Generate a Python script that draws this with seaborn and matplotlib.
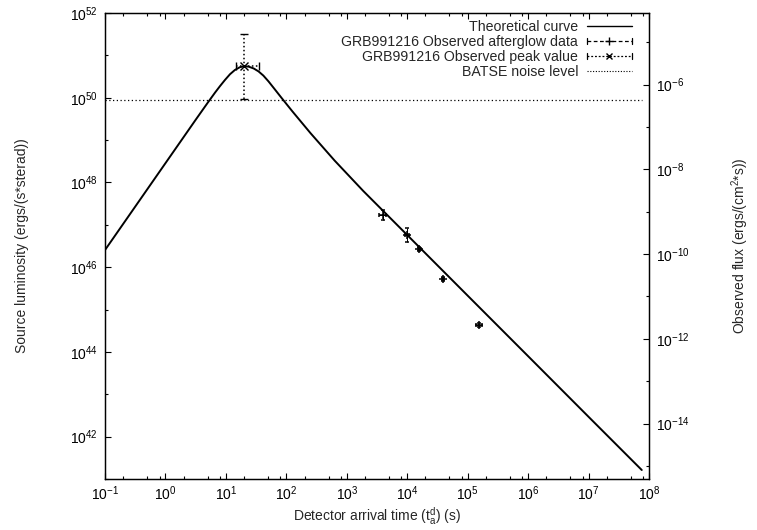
import numpy as np
import pandas as pd
import matplotlib
matplotlib.use("Agg")
import matplotlib.pyplot as plt
import seaborn as sns
from matplotlib.lines import Line2D
from matplotlib.legend_handler import HandlerBase
from matplotlib.ticker import FixedLocator, LogLocator, LogFormatterSciNotation, NullFormatter

# ---------------- data ----------------
curve_t = [0.1, 1.0, 3.16, 5.01, 6.61, 7.94, 9.66, 11.7, 14.1, 17.0, 20.2, 24.0, 28.8,
           34.7, 41.7, 50.7, 63.1, 83.9, 126, 251, 631, 1879, 1.0e4, 1.0e5, 1.0e6,
           1.0e7, 7.59e7]
curve_L = [2.54e46, 2.85e48, 3.01e49, 7.64e49, 1.32e50, 1.86e50, 2.63e50, 3.59e50,
           4.52e50, 5.25e50, 5.56e50, 5.40e50, 4.91e50, 4.18e50, 3.33e50, 2.43e50,
           1.64e50, 9.79e49, 4.76e49, 1.46e49, 3.27e48, 6.27e47, 5.74e46, 2.13e45,
           7.93e43, 2.94e42, 1.63e41]

ag_t = [3940, 10050, 15850, 39540, 154000]
ag_L = [1.70e47, 5.74e46, 2.64e46, 5.26e45, 4.31e44]
ag_t_lo = [3450, 9300, 15000, 38000, 137000]
ag_t_hi = [4500, 10850, 16700, 41000, 173000]
ag_L_lo = [1.33e47, 4.0e46, 2.35e46, 4.8e45, 3.9e44]
ag_L_hi = [2.2e47, 8.3e46, 2.95e46, 5.8e45, 4.8e44]

peak_t = [20.2]
peak_L = [5.6e50]
peak_t_lo = [14.7]
peak_t_hi = [35.7]
peak_L_lo = [9.3e49]
peak_L_hi = [3.19e51]

batse_t = [0.1, 7.59e7]
batse_L = [8.8e49, 8.8e49]

flux_per_lum = 4.9e-57

legend_labels = ["Theoretical curve", "GRB991216 Observed afterglow data",
                 "GRB991216 Observed peak value", "BATSE noise level"]
x_ticks = [1e-1, 1e0, 1e1, 1e2, 1e3, 1e4, 1e5, 1e6, 1e7, 1e8]
y_ticks = [1e42, 1e44, 1e46, 1e48, 1e50, 1e52]
y_minor = [1e41, 1e43, 1e45, 1e47, 1e49, 1e51]
y2_ticks = [1e-14, 1e-12, 1e-10, 1e-8, 1e-6]
y2_minor = [1e-15, 1e-13, 1e-11, 1e-9, 1e-7, 1e-5]

# ---------------- style ----------------
sns.set_theme(style="ticks")
plt.rcParams["font.family"] = ["Liberation Sans", "DejaVu Sans"]
plt.rcParams["mathtext.fontset"] = "custom"
plt.rcParams["mathtext.rm"] = "Liberation Sans"
plt.rcParams["mathtext.it"] = "Liberation Sans:italic"
plt.rcParams["axes.unicode_minus"] = False
plt.rcParams["font.size"] = 10

W, H = 757, 530
fig = plt.figure(figsize=(W / 100, H / 100), dpi=100)
ax = fig.add_axes([105 / W, 1 - 479 / H, 544 / W, 466 / H])
ax.set_xscale("log")
ax.set_yscale("log")

curve_df = pd.DataFrame({"t": curve_t, "L": curve_L})
sns.lineplot(data=curve_df, x="t", y="L", color="black", lw=1.4, ax=ax,
             sort=False, estimator=None, legend=False)
sns.lineplot(x=batse_t, y=batse_L, color="black", lw=0.9, ls=(0, (1, 2)), ax=ax,
             legend=False, estimator=None)

ag_t_a = np.array(ag_t); ag_L_a = np.array(ag_L)
xerr = [ag_t_a - np.array(ag_t_lo), np.array(ag_t_hi) - ag_t_a]
yerr = [ag_L_a - np.array(ag_L_lo), np.array(ag_L_hi) - ag_L_a]
ax.errorbar(ag_t, ag_L, xerr=xerr, yerr=yerr, fmt="+", color="black", ms=5.5, mew=1.1,
            elinewidth=0.7, capsize=1.6, capthick=0.7)

pk_t = np.array(peak_t); pk_L = np.array(peak_L)
pxerr = [pk_t - np.array(peak_t_lo), np.array(peak_t_hi) - pk_t]
pyerr = [pk_L - np.array(peak_L_lo), np.array(peak_L_hi) - pk_L]
eb = ax.errorbar(peak_t, peak_L, xerr=pxerr, yerr=pyerr, fmt="x", color="black", ms=6,
                 mew=1.0, elinewidth=1.1, capsize=3, capthick=0.9)
for lc in eb[2]:
    lc.set_linestyle((0, (1, 1.6)))

ax.set_xlim(1e-1, 1e8)
ax.set_ylim(1e41, 1e52)
ax.xaxis.set_major_locator(FixedLocator(x_ticks))
ax.xaxis.set_minor_locator(LogLocator(base=10, subs=(2, 5, 8)))
ax.xaxis.set_minor_formatter(NullFormatter())
ax.xaxis.set_major_formatter(LogFormatterSciNotation())
ax.yaxis.set_major_locator(FixedLocator(y_ticks))
ax.yaxis.set_minor_locator(FixedLocator(y_minor))
ax.yaxis.set_major_formatter(LogFormatterSciNotation())
ax.yaxis.set_minor_formatter(NullFormatter())

ax.tick_params(axis="x", which="both", direction="in", top=True, bottom=True, colors="black")
ax.tick_params(axis="y", which="both", direction="in", left=True, right=False, colors="black")
ax.tick_params(which="major", length=4.5, width=0.8, labelsize=10)
ax.tick_params(which="minor", length=2.3, width=0.8)
ax.tick_params(axis="x", which="major", pad=4)
ax.tick_params(axis="y", which="major", pad=5)
for s in ax.spines.values():
    s.set_color("black"); s.set_linewidth(0.9)

ax2 = ax.twinx()
ax2.set_yscale("log")
ax2.set_ylim(1e41 * flux_per_lum, 1e52 * flux_per_lum)
ax2.yaxis.set_major_locator(FixedLocator(y2_ticks))
ax2.yaxis.set_minor_locator(FixedLocator(y2_minor))
ax2.yaxis.set_major_formatter(LogFormatterSciNotation())
ax2.yaxis.set_minor_formatter(NullFormatter())
ax2.tick_params(axis="y", which="both", direction="in", right=True, colors="black")
ax2.tick_params(which="major", length=4.5, width=0.8, labelsize=10, pad=5)
ax2.tick_params(which="minor", length=2.3, width=0.8)
for s in ax2.spines.values():
    s.set_color("black"); s.set_linewidth(0.9)

ax.set_xlabel(r"Detector arrival time ($\mathregular{t_a^d}$) (s)", fontsize=10)
ax.set_ylabel("Source luminosity (ergs/(s*sterad))", fontsize=10)
ax2.set_ylabel(r"Observed flux (ergs/(cm$\mathregular{^2}$*s))", fontsize=10)
ax.xaxis.set_label_coords(0.5, -0.055)
ax.yaxis.set_label_coords(-0.14, 0.5)
ax2.yaxis.set_label_coords(1.147, 0.5)


class ErrHandler(HandlerBase):
    def __init__(self, ls, marker, ms):
        super().__init__()
        self.ls, self.marker, self.ms = ls, marker, ms

    def create_artists(self, legend, orig_handle, xdescent, ydescent, width, height,
                       fontsize, trans):
        x0, x1 = -xdescent, width - xdescent
        yc = (height - ydescent) / 2.0
        arts = [Line2D([x0, x1], [yc, yc], color="black", lw=0.9, ls=self.ls),
                Line2D([(x0 + x1) / 2], [yc], color="black", ls="none",
                       marker=self.marker, ms=self.ms, mew=1.0),
                Line2D([x0, x0], [yc - 2.2, yc + 2.2], color="black", lw=0.9),
                Line2D([x1, x1], [yc - 2.2, yc + 2.2], color="black", lw=0.9)]
        for a in arts:
            a.set_transform(trans)
        return arts


h_curve = Line2D([], [], color="black", lw=1.0)
h_ag = Line2D([], [], color="black", ls="--")
h_pk = Line2D([], [], color="black", ls=":")
h_bt = Line2D([], [], color="black", lw=0.8, ls=(0, (1, 1.5)))
leg = ax.legend([h_curve, h_ag, h_pk, h_bt], legend_labels,
                handler_map={h_ag: ErrHandler((0, (3, 2)), "+", 6),
                             h_pk: ErrHandler((0, (1.5, 1.5)), "x", 5)},
                loc="upper right", bbox_to_anchor=(632 / W, 1 - 20 / H),
                bbox_transform=fig.transFigure, frameon=False, markerfirst=False,
                fontsize=10.2, handlelength=3.2, handletextpad=0.6, labelspacing=0.08,
                borderpad=0, borderaxespad=0)

fig.savefig("out.png", dpi=100)
